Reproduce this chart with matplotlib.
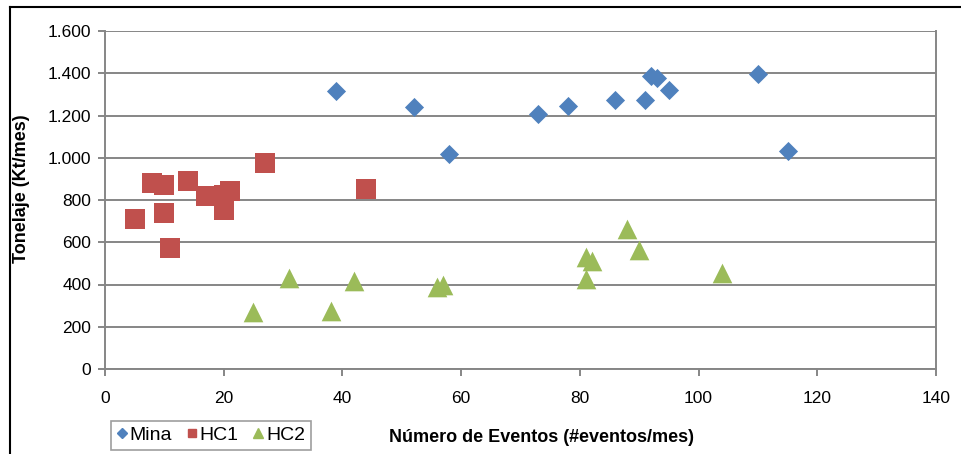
import matplotlib
matplotlib.use("Agg")
import matplotlib.pyplot as plt
from matplotlib.lines import Line2D
from matplotlib.ticker import FuncFormatter

plt.rcParams['font.family'] = ['Liberation Sans', 'DejaVu Sans']

# eventos/mes vs tonelaje (Kt/mes)
mina_x = [39, 52, 58, 73, 78, 86, 91, 92, 93, 95, 110, 115]
mina_y = [1315, 1240, 1020, 1205, 1243, 1273, 1272, 1388, 1378, 1320, 1397, 1030]

hc1_x = [5, 8, 10, 10, 11, 14, 17, 20, 20, 21, 27, 44]
hc1_y = [710, 880, 873, 737, 574, 890, 818, 826, 751, 843, 974, 852]

hc2_x = [25, 31, 38, 42, 56, 57, 81, 82, 81, 88, 90, 104]
hc2_y = [268, 430, 276, 418, 388, 398, 532, 512, 426, 662, 562, 455]

grid_col = '#868686'

fig = plt.figure(figsize=(9.62, 4.54), dpi=100)
ax = fig.add_axes([105 / 962, 1 - 369 / 454, 831 / 962, 338 / 454])

ax.scatter(mina_x, mina_y, marker='D', s=95, color='#4F81BD', label='Mina', zorder=3, linewidths=0)
ax.scatter(hc1_x, hc1_y, marker='s', s=220, color='#C0504D', label='HC1', zorder=3, linewidths=0)
ax.scatter(hc2_x, hc2_y, marker='^', s=200, color='#9BBB59', label='HC2', zorder=3, linewidths=0)

ax.set_xlim(0, 140)
ax.set_ylim(0, 1600)
ax.set_xticks(range(0, 141, 20))
ax.set_yticks(range(0, 1601, 200))
ax.yaxis.set_major_formatter(FuncFormatter(lambda v, p: f'{int(v):,}'.replace(',', '.')))
ax.yaxis.grid(True, color=grid_col, linewidth=1.4)
ax.set_axisbelow(True)

for side in ['left', 'bottom', 'right', 'top']:
    ax.spines[side].set_color(grid_col)
    ax.spines[side].set_linewidth(1.4)
ax.spines['top'].set_visible(False)
ax.tick_params(axis='both', color=grid_col, width=1.4, length=5, labelsize=12.5, labelcolor='black')
ax.tick_params(axis='x', pad=11)
ax.tick_params(axis='y', pad=5)

fig.text(22 / 962, 1 - 189 / 454, 'Tonelaje (Kt/mes)', rotation=90, fontsize=13,
         fontweight='bold', ha='center', va='center')
fig.text(542 / 962, 1 - 437 / 454, 'Número de Eventos (#eventos/mes)', fontsize=13,
         fontweight='bold', ha='center', va='center')

handles = [
    Line2D([], [], marker='D', color='#4F81BD', linestyle='none', markersize=5.5),
    Line2D([], [], marker='s', color='#C0504D', linestyle='none', markersize=6),
    Line2D([], [], marker='^', color='#9BBB59', linestyle='none', markersize=6.5),
]
leg = fig.legend(handles, ['Mina', 'HC1', 'HC2'], loc='lower left',
                 bbox_to_anchor=(111 / 962, 1 - 450 / 454, 200 / 962, 32 / 454),
                 mode='expand', ncol=3, fontsize=14, frameon=True, fancybox=False,
                 handlelength=0.5, handletextpad=0.15, columnspacing=0.9,
                 borderpad=0.3, borderaxespad=0)
leg.get_frame().set_edgecolor(grid_col)
leg.get_frame().set_linewidth(1.2)

# outer frame lines (top and left)
fig.add_artist(Line2D([9.5 / 962, 1], [1 - 6.5 / 454, 1 - 6.5 / 454], color='black', linewidth=1.5))
fig.add_artist(Line2D([9.5 / 962, 9.5 / 962], [0, 1 - 6.5 / 454], color='black', linewidth=1.5))

fig.savefig('out.png', dpi=100)
